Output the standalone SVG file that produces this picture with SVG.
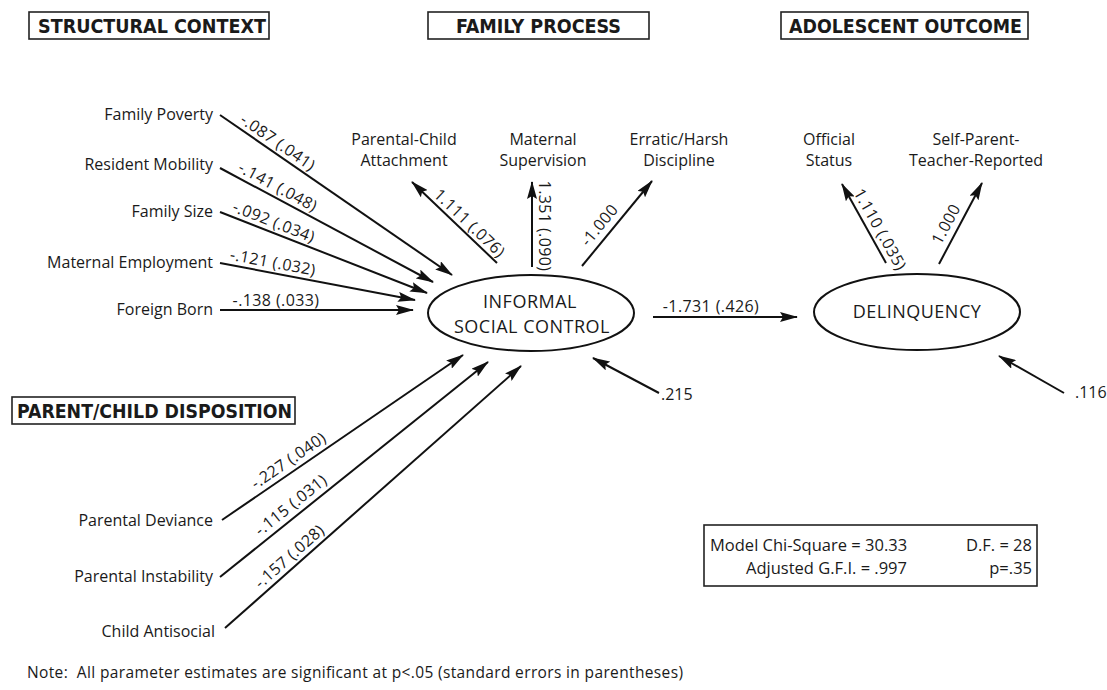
<svg xmlns="http://www.w3.org/2000/svg" width="1107" height="690" viewBox="0 0 1107 690">
<defs>
<marker id="ah" viewBox="0 0 18 10" markerWidth="18" markerHeight="10" refX="17" refY="5" orient="auto" markerUnits="userSpaceOnUse">
<path d="M0,0 L18,5 L0,10 L3,5 z" fill="#111"/>
</marker>
</defs>
<style>
text{font-family:"Open Sans","Liberation Sans",sans-serif;fill:#1a1a1a}
.hdr{font-family:"Liberation Sans Narrow","DejaVu Sans Condensed","Liberation Sans",sans-serif;font-weight:bold;font-size:20px}
.box{fill:none;stroke:#222;stroke-width:1.6}
.lbl{font-size:16px}
.num{font-size:16px;letter-spacing:0.4px}
.ell{fill:none;stroke:#111;stroke-width:2}
.big{font-size:18px;letter-spacing:0.5px}
.con path{fill:none;stroke:#111;stroke-width:2;marker-end:url(#ah)}
</style>
<rect width="1107" height="690" fill="#fff"/>

<g id="hdr-structural">
<rect class="box" x="29" y="12" width="240" height="27"/>
<text class="hdr" x="38" y="33" textLength="228" lengthAdjust="spacingAndGlyphs">STRUCTURAL CONTEXT</text>
</g>
<g id="hdr-family">
<rect class="box" x="428" y="12" width="221" height="27"/>
<text class="hdr" x="456" y="33" textLength="165" lengthAdjust="spacingAndGlyphs">FAMILY PROCESS</text>
</g>
<g id="hdr-outcome">
<rect class="box" x="781" y="12" width="247" height="27"/>
<text class="hdr" x="789" y="33" textLength="233" lengthAdjust="spacingAndGlyphs">ADOLESCENT OUTCOME</text>
</g>
<g id="hdr-disposition">
<rect class="box" x="12" y="397" width="283" height="27"/>
<text class="hdr" x="17" y="418" textLength="275" lengthAdjust="spacingAndGlyphs">PARENT/CHILD DISPOSITION</text>
</g>

<g id="family-poverty"><text class="lbl" x="213" y="120" text-anchor="end">Family Poverty</text></g>
<g id="resident-mobility"><text class="lbl" x="213" y="170" text-anchor="end">Resident Mobility</text></g>
<g id="family-size"><text class="lbl" x="213" y="217" text-anchor="end">Family Size</text></g>
<g id="maternal-employment"><text class="lbl" x="213" y="268" text-anchor="end">Maternal Employment</text></g>
<g id="foreign-born"><text class="lbl" x="213" y="315" text-anchor="end">Foreign Born</text></g>

<g id="parental-deviance"><text class="lbl" x="213" y="526" text-anchor="end">Parental Deviance</text></g>
<g id="parental-instability"><text class="lbl" x="213" y="582" text-anchor="end">Parental Instability</text></g>
<g id="child-antisocial"><text class="lbl" x="215" y="637" text-anchor="end">Child Antisocial</text></g>

<g id="attachment"><text class="lbl" x="404" y="145" text-anchor="middle">Parental-Child</text><text class="lbl" x="404" y="166" text-anchor="middle">Attachment</text></g>
<g id="supervision"><text class="lbl" x="543" y="145" text-anchor="middle">Maternal</text><text class="lbl" x="543" y="166" text-anchor="middle">Supervision</text></g>
<g id="discipline"><text class="lbl" x="679" y="145" text-anchor="middle">Erratic/Harsh</text><text class="lbl" x="679" y="166" text-anchor="middle">Discipline</text></g>
<g id="official"><text class="lbl" x="829" y="145" text-anchor="middle">Official</text><text class="lbl" x="829" y="166" text-anchor="middle">Status</text></g>
<g id="selfreport"><text class="lbl" x="976" y="145" text-anchor="middle">Self-Parent-</text><text class="lbl" x="976" y="166" text-anchor="middle">Teacher-Reported</text></g>

<g id="informal-social-control">
<ellipse class="ell" cx="531" cy="313" rx="103" ry="38"/>
<text class="big" x="530" y="308" text-anchor="middle">INFORMAL</text>
<text class="big" x="532" y="333" text-anchor="middle">SOCIAL CONTROL</text>
</g>
<g id="delinquency">
<ellipse class="ell" cx="917" cy="312" rx="103" ry="38"/>
<text class="big" x="917" y="318" text-anchor="middle">DELINQUENCY</text>
</g>

<g id="err-isc"><text class="lbl" x="661" y="400">.215</text></g>
<g id="err-del"><text class="lbl" x="1075" y="398">.116</text></g>

<g id="fit-stats">
<rect class="box" x="704" y="525" width="333" height="61"/>
<text class="lbl" x="710" y="551" style="font-size:16.5px">Model Chi-Square = 30.33</text>
<text class="lbl" x="1032" y="551" text-anchor="end" style="font-size:16.5px">D.F. = 28</text>
<text class="lbl" x="907" y="574" text-anchor="end" style="font-size:16.5px">Adjusted G.F.I. = .997</text>
<text class="lbl" x="1032" y="574" text-anchor="end" style="font-size:16.5px">p=.35</text>
</g>

<g id="note"><text x="27" y="678" style="font-size:15.5px" textLength="656" lengthAdjust="spacing">Note:&#160; All parameter estimates are significant at p&lt;.05 (standard errors in parentheses)</text></g>

<g id="connectors" class="con">
<path d="M220,115 L452,275"/>
<path d="M220,168 L433,282"/>
<path d="M220,212 L427,293"/>
<path d="M220,263 L415,300"/>
<path d="M220,310 L413,310"/>
<path d="M222,520 L463,355"/>
<path d="M220,577 L488,362"/>
<path d="M225,628 L521,366"/>
<path d="M497,263 L412,182"/>
<path d="M532,267 L532,182"/>
<path d="M582,266 L652,181"/>
<path d="M653,317 L797,317"/>
<path d="M659,393 L593,358"/>
<path d="M886,263 L842,184"/>
<path d="M939,264 L982,183"/>
<path d="M1064,393 L999,356"/>
</g>

<g id="connector-labels">
<text class="num" transform="translate(272,151) rotate(34.6)" y="-5" text-anchor="middle">-.087 (.041)</text>
<text class="num" transform="translate(273,196) rotate(28.2)" y="-5" text-anchor="middle">-.141 (.048)</text>
<text class="num" transform="translate(270,231.6) rotate(21.4)" y="-5" text-anchor="middle">-.092 (.034)</text>
<text class="num" transform="translate(271,272.7) rotate(10.7)" y="-5" text-anchor="middle">-.121 (.032)</text>
<text class="num" transform="translate(276,310)" y="-4" text-anchor="middle">-.138 (.033)</text>
<text class="num" transform="translate(463,230) rotate(43.6)" y="-4" text-anchor="middle">1.111 (.076)</text>
<text class="num" transform="translate(532,226) rotate(90)" y="-7" text-anchor="middle">1.351 (.090)</text>
<text class="num" transform="translate(609,233) rotate(-50.5)" y="-7" text-anchor="middle">-1.000</text>
<text class="num" x="711" y="312" text-anchor="middle">-1.731 (.426)</text>
<text class="num" transform="translate(870,235) rotate(60.9)" y="-6" text-anchor="middle">1.110 (.035)</text>
<text class="num" transform="translate(957,230) rotate(-62)" y="-7" text-anchor="middle">1.000</text>
<text class="num" transform="translate(295,470) rotate(-34.4)" y="-6" text-anchor="middle">-.227 (.040)</text>
<text class="num" transform="translate(298,514) rotate(-38.7)" y="-6" text-anchor="middle">-.115 (.031)</text>
<text class="num" transform="translate(297,565) rotate(-41.5)" y="-6" text-anchor="middle">-.157 (.028)</text>
</g>
</svg>
